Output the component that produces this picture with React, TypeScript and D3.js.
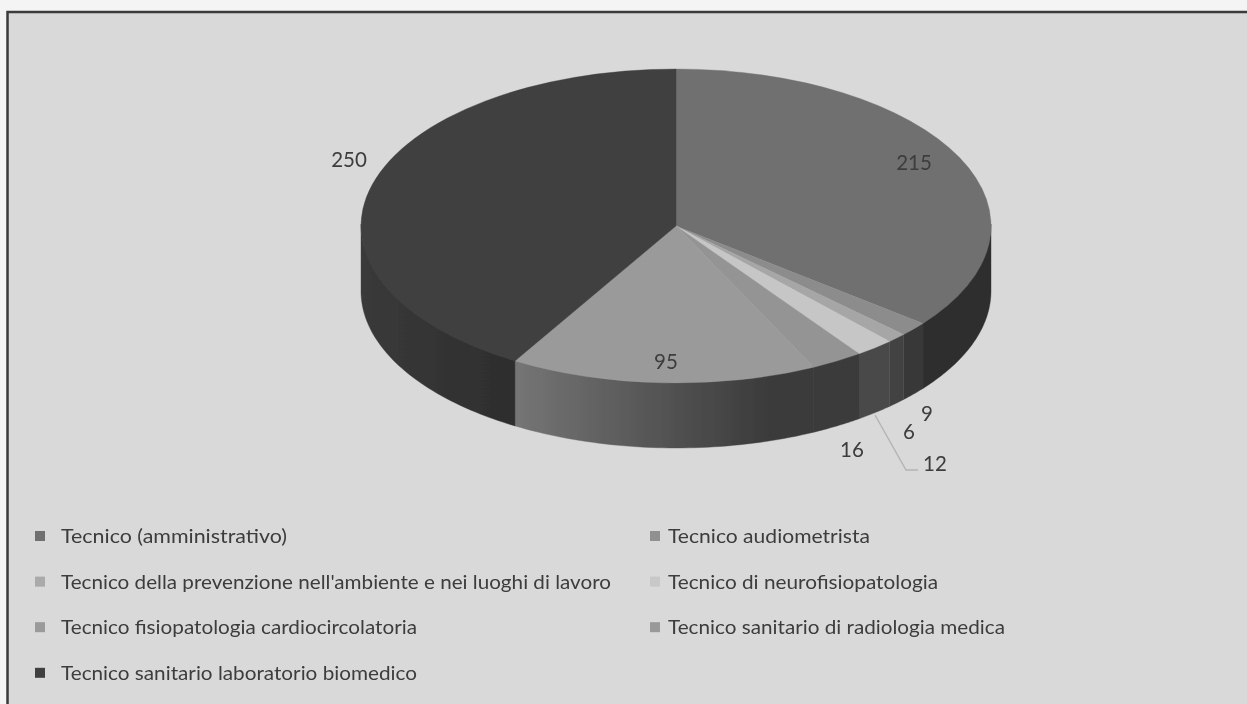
import React from "react";
import * as d3 from "d3";

const categories = [
  "Tecnico (amministrativo)",
  "Tecnico audiometrista",
  "Tecnico della prevenzione nell'ambiente e nei luoghi di lavoro",
  "Tecnico di neurofisiopatologia",
  "Tecnico fisiopatologia cardiocircolatoria",
  "Tecnico sanitario di radiologia medica",
  "Tecnico sanitario laboratorio biomedico",
];
const values = [215, 9, 6, 12, 16, 95, 250];
const topColors = ["#6f6f6f", "#8c8c8c", "#a6a6a6", "#c6c6c6", "#949494", "#9a9a9a", "#404040"];
const wallFrom = ["#2e2e2e", "#383838", "#424242", "#4a4a4a", "#3b3b3b", "#757575", "#3a3a3a"];
const wallTo = ["#2e2e2e", "#383838", "#424242", "#4a4a4a", "#3b3b3b", "#3b3b3b", "#2f2f2f"];
const legendColors = ["#6f6f6f", "#909090", "#aaaaaa", "#c8c8c8", "#9a9a9a", "#999999", "#404040"];
const legendWidths = [226, 202, 550, 270, 356, 337, 356];
const labelAnchors: [number, number][] = [[914, 162], [927, 413], [909, 431], [935, 463], [852, 449], [666, 361], [349, 159]];

const CX = 676, CY = 226, RX = 315, RY = 157, DEPTH = 65;
const FONT = "Lato, 'Open Sans', sans-serif";

const xS = d3.scaleLinear().domain([-1, 1]).range([CX - RX, CX + RX]);
const yS = d3.scaleLinear().domain([-1, 1]).range([CY - RY, CY + RY]);

export default function App() {
  const slices = d3.pie<number>().sort(null).value((d) => d)(values);
  const arc = d3.arc<d3.PieArcDatum<number>>().innerRadius(0).outerRadius(RX);
  const wall = d3
    .area<number>()
    .x((a) => xS(Math.sin(a)))
    .y0((a) => yS(-Math.cos(a)) - 2)
    .y1((a) => yS(-Math.cos(a)) + DEPTH);

  const walls = slices.map((s, i) => {
    const a0 = Math.max(s.startAngle, Math.PI / 2);
    const a1 = Math.min(s.endAngle, (3 * Math.PI) / 2);
    if (a1 <= a0) return null;
    const steps = 48;
    const angles = d3.range(steps + 1).map((k) => a0 + ((a1 - a0) * k) / steps);
    const xa = xS(Math.sin(a0)), xb = xS(Math.sin(a1));
    return { i, d: wall(angles)!, xa, xb };
  });

  return (
    <svg
      width={1247}
      height={704}
      viewBox="0 0 1247 704"
      style={{ position: "absolute", left: 0, top: 0, display: "block", background: "#f4f4f4" }}
    >
      <defs>
        <filter id="soft" x="-5%" y="-5%" width="110%" height="110%">
          <feGaussianBlur stdDeviation="0.55" />
        </filter>
        <filter id="softText" x="-5%" y="-20%" width="110%" height="140%">
          <feGaussianBlur stdDeviation="0.7" />
        </filter>
        {walls.map((w) =>
          w ? (
            <linearGradient key={w.i} id={`wall${w.i}`} gradientUnits="userSpaceOnUse" x1={w.xb} x2={w.xa} y1={0} y2={0}>
              <stop offset="0%" stopColor={wallFrom[w.i]} />
              <stop offset="85%" stopColor={wallTo[w.i]} />
            </linearGradient>
          ) : null
        )}
      </defs>
      <g filter="url(#soft)">
        <rect x={7.5} y={12} width={1300} height={760} fill="#d9d9d9" stroke="#3a3a3a" strokeWidth={2.5} />
        {walls.map((w) =>
          w ? <path key={w.i} d={w.d} fill={`url(#wall${w.i})`} stroke={`url(#wall${w.i})`} strokeWidth={0.4} /> : null
        )}
        <g transform={`translate(${CX},${CY}) scale(1,${RY / RX})`}>
          {slices.map((s, i) => (
            <path key={i} d={arc(s)!} fill={topColors[i]} stroke={topColors[i]} strokeWidth={0.5} />
          ))}
        </g>
        <polyline points="875,415 906,470 918,470" fill="none" stroke="#b4b4b4" strokeWidth={1.4} />
      </g>
      <g fontFamily={FONT} fill="#3c3c3c" filter="url(#softText)">
        {values.map((v, i) => (
          <text key={i} x={labelAnchors[i][0]} y={labelAnchors[i][1]} textAnchor="middle" dominantBaseline="central" fontSize={20.5}>
            {v}
          </text>
        ))}
        {categories.map((c, i) => {
          const col = i % 2;
          const row = Math.floor(i / 2);
          const x = col === 0 ? 35 : 650;
          const y = 536 + row * 45.6;
          return (
            <g key={c}>
              <rect x={x} y={y - 5} width={10} height={10} fill={legendColors[i]} />
              <text
                x={x + (col === 0 ? 26 : 18)}
                y={y - 1}
                dominantBaseline="central"
                fontSize={20}
                textLength={legendWidths[i]}
                lengthAdjust="spacingAndGlyphs"
              >
                {c}
              </text>
            </g>
          );
        })}
      </g>
    </svg>
  );
}
